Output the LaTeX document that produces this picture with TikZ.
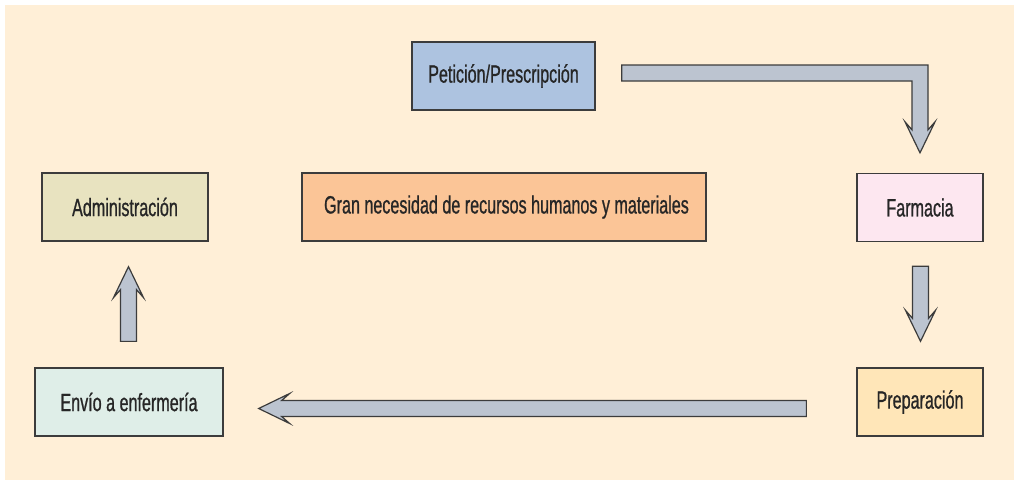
\documentclass[tikz,border=0pt]{standalone}
\usepackage{fontspec}
\setmainfont[FakeStretch=0.645,FakeBold=0.8]{Liberation Sans}
\usepackage{tikz}
\usetikzlibrary{calc}
\definecolor{fondo}{HTML}{FFEFD7}
\definecolor{azul}{HTML}{ADC3E0}
\definecolor{naranja}{HTML}{FBC597}
\definecolor{caqui}{HTML}{E8E3C0}
\definecolor{rosa}{HTML}{FDE7F0}
\definecolor{crema}{HTML}{FFE6B8}
\definecolor{menta}{HTML}{DFEEE8}
\definecolor{flecha}{HTML}{BCC4D0}
\definecolor{borde}{HTML}{3C3C3C}
\tikzset{
  caja/.style={draw=borde, line width=1.3pt, minimum height=68pt, inner sep=0pt,
    text=black!85, font=\fontsize{25}{29}\selectfont},
  gruesa/.style={draw=borde, fill=flecha, line width=1.2pt, line join=miter}
}
\newcommand{\fatarrow}[2]{%
  \coordinate (fa-j) at ($(#2)!23pt!(#1)$);
  \coordinate (fa-w) at ($(#2)!31pt!(#1)$);
  \draw[gruesa] ($(#1)!8pt!90:(#2)$) -- ($(fa-j)!8pt!90:(#2)$) -- ($(fa-w)!15pt!90:(#2)$)
    -- (#2) -- ($(fa-w)!15pt!-90:(#2)$) -- ($(fa-j)!8pt!-90:(#2)$) -- ($(#1)!8pt!-90:(#2)$) -- cycle;
}
\begin{document}
\begin{tikzpicture}[x=1pt,y=-1pt]
\useasboundingbox (0,0) rectangle (1014,480);
\fill[fondo] (5,5) rectangle (1014,480);

\node[caja, fill=azul, minimum width=183pt] (pet) at (503.5,76) {Petición/Prescripción};
\node[caja, fill=naranja, minimum width=404pt] (gran) at (504,207) {\hspace{5pt}Gran necesidad de recursos humanos y materiales};
\node[caja, fill=caqui, minimum width=166pt] (adm) at (125,207) {Administración};
\node[caja, fill=rosa, minimum width=126pt] (farm) at (920,207.5) {Farmacia};
\node[caja, fill=crema, minimum width=126pt] (prep) at (920,402) {Preparación};
\node[caja, fill=menta, minimum width=188pt] (env) at (129,402) {Envío a enfermería};

\coordinate (bs) at ($(pet.east)+(26,-3)$);
\coordinate (bc) at (bs -| farm);
\coordinate (bt) at ($(farm.north)+(0,-20)$);
\draw[gruesa] ($(bs)+(0,-8)$) -- ($(bc)+(8,-8)$) -- ($(bt)+(8,-23)$) -- ($(bt)+(15,-31)$)
  -- (bt) -- ($(bt)+(-15,-31)$) -- ($(bt)+(-8,-23)$) -- ($(bc)+(-8,8)$) -- ($(bs)+(0,8)$) -- cycle;

\coordinate (f1) at ($(farm.south)+(0.5,24)$);
\coordinate (f2) at ($(prep.north)+(0.5,-26)$);
\fatarrow{f1}{f2}

\coordinate (p1) at ($(prep.west)+(-50,6.5)$);
\coordinate (p2) at ($(env.east)+(35,6.5)$);
\fatarrow{p1}{p2}

\coordinate (e1) at ($(env.north)+(-0.5,-26)$);
\coordinate (e2) at ($(adm.south)+(3.5,25)$);
\fatarrow{e1}{e2}
\end{tikzpicture}
\end{document}
